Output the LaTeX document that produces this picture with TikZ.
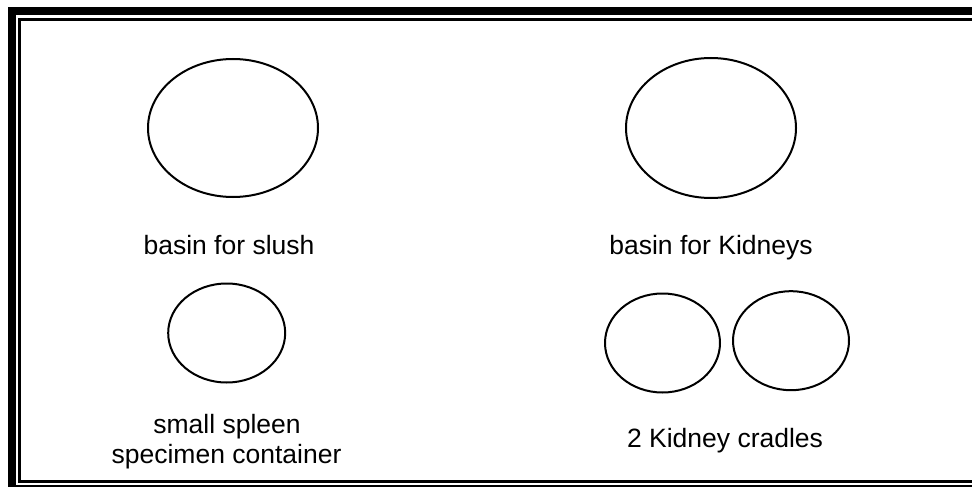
\documentclass[tikz,border=0pt]{standalone}
\usepackage{fontspec}
\setmainfont{Liberation Sans}
\usetikzlibrary{shapes.geometric}
\begin{document}
\begin{tikzpicture}[x=1pt,y=-1pt,
  dish/.style={ellipse,draw,line width=2pt,inner sep=0pt,outer sep=0pt},
  lbl/.style={font=\fontsize{26.5}{30}\selectfont,inner sep=0pt,anchor=base,align=center}]
\useasboundingbox (0,0) rectangle (972,487);
\begin{scope}
\clip (0,0) rectangle (972,487);
\draw[line width=8pt] (12,11) rectangle (990,488.5);
\draw[line width=3pt] (19.5,19.5) rectangle (985,481);
\end{scope}
\node[dish,minimum width=170pt,minimum height=138pt] (slush) at (233,128) {};
\node[dish,minimum width=170pt,minimum height=140pt] (kid) at (711,128) {};
\node[dish,minimum width=117pt,minimum height=99pt] (spleen) at (226.7,333) {};
\node[dish,minimum width=115pt,minimum height=99pt] (crA) at (662.5,343) {};
\node[dish,minimum width=116pt,minimum height=99pt] (crB) at (791,340.7) {};
\node[lbl] (t1) at (229,254) {basin for slush};
\node[lbl] (t2) at (711,254) {basin for Kidneys};
\node[lbl] (t3) at (227,433) {small spleen};
\node[lbl] (t4) at (226.5,463) {specimen container};
\node[lbl] (t5) at (725,447) {2 Kidney cradles};
\end{tikzpicture}
\end{document}
